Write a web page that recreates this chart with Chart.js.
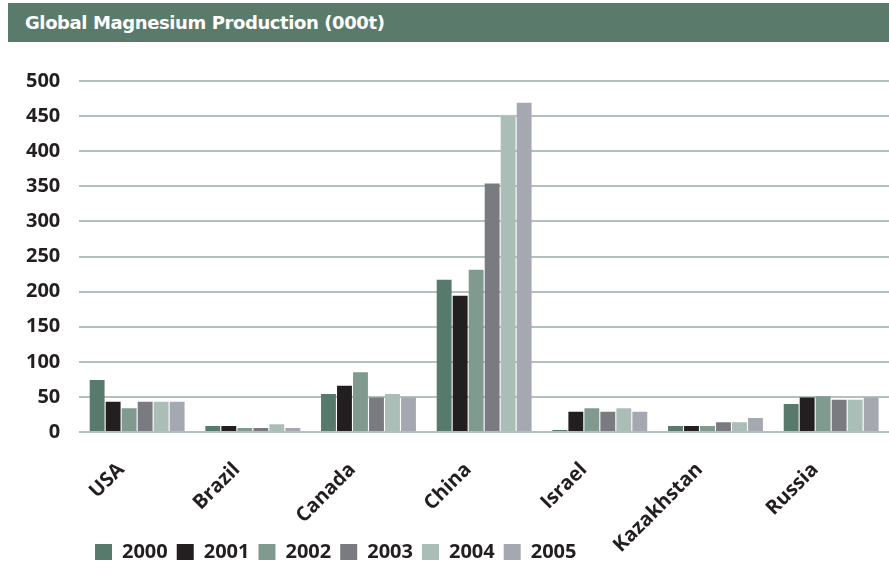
<!DOCTYPE html>
<html>
<head>
<meta charset="utf-8">
<script src="https://cdn.jsdelivr.net/npm/chart.js@4.4.0/dist/chart.umd.min.js"></script>
<style>
body { margin: 0; background: #fff; width: 889px; height: 580px; overflow: hidden; position: relative; }
#title { position: absolute; left: 8px; top: 3px; width: 881px; height: 39px; background: #5a7a6c; color: #fff;
  font: bold 18px "DejaVu Sans"; letter-spacing: -0.4px; line-height: 39px; padding-left: 17px; box-sizing: border-box; }
#wrap { position: absolute; left: 0; top: 42px; width: 889px; height: 538px; }
</style>
</head>
<body>
<div id="title">Global Magnesium Production (000t)</div>
<div id="wrap"><canvas id="ex_chart"></canvas></div>
<script>
// categories and series (000t)
const countries = ['USA', 'Brazil', 'Canada', 'China', 'Israel', 'Kazakhstan', 'Russia'];
const years = ['2000', '2001', '2002', '2003', '2004', '2005'];
const v2000 = [74, 8.5, 54, 217, 3, 8.5, 40];
const v2001 = [43, 8.5, 66, 194, 29, 8.5, 49];
const v2002 = [34, 5.7, 85, 231, 34, 8.5, 51];
const v2003 = [43, 5.7, 49, 354, 29, 14, 46];
const v2004 = [43, 11, 54, 449, 34, 14, 46];
const v2005 = [43, 5.7, 49, 469, 29, 20, 49];
const yTicks = [0, 50, 100, 150, 200, 250, 300, 350, 400, 450, 500];

const colors = ['#587a6c', '#231f20', '#809a90', '#7a7b80', '#abbdb7', '#a5a8b0'];
const series = [v2000, v2001, v2002, v2003, v2004, v2005];
const textColor = '#231f20';
const labelFont = { family: 'Open Sans', weight: 'bold', size: 20 };

window.addEventListener('load', function () {
    const ctx = document.getElementById('ex_chart');

    const data = {
        labels: countries,
        datasets: years.map((y, i) => ({
            label: y,
            data: series[i],
            backgroundColor: colors[i],
            borderWidth: 0,
            categoryPercentage: 0.83,
            barPercentage: 0.93
        }))
    };

    // legend starts under the plot; x labels may run down past it
    const legendShift = {
        id: 'legendShift',
        afterLayout(chart) {
            const lg = chart.legend;
            const dx = 86 - lg.left;
            lg.left += dx;
            lg.right += dx;
            chart.scales.x.bottom += 45;
        }
    };

    const options = {
        responsive: true,
        maintainAspectRatio: false,
        animation: false,
        layout: { padding: { left: 7, right: 0, top: 39, bottom: 8 } },
        plugins: {
            title: { display: false },
            tooltip: { enabled: false },
            legend: {
                position: 'bottom',
                align: 'start',
                labels: {
                    boxWidth: 17,
                    boxHeight: 16,
                    padding: 9,
                    color: textColor,
                    font: labelFont
                }
            }
        },
        scales: {
            x: {
                grid: { display: false },
                border: { display: false },
                ticks: {
                    color: textColor,
                    font: labelFont,
                    maxRotation: 45,
                    minRotation: 45,
                    autoSkip: false,
                    padding: 18,
                    labelOffset: -16
                },
                afterFit(scale) { scale.height = 101; }
            },
            y: {
                min: 0,
                max: 500,
                afterBuildTicks(scale) { scale.ticks = yTicks.map(v => ({ value: v })); },
                grid: { color: '#b0c2ba', lineWidth: 2, drawTicks: false },
                border: { display: false },
                ticks: { color: textColor, font: labelFont, padding: 19 }
            }
        }
    };

    const ex_chart = new Chart(ctx, {
        type: 'bar',
        data: data,
        options: options,
        plugins: [legendShift]
    });
});
</script>
</body>
</html>
